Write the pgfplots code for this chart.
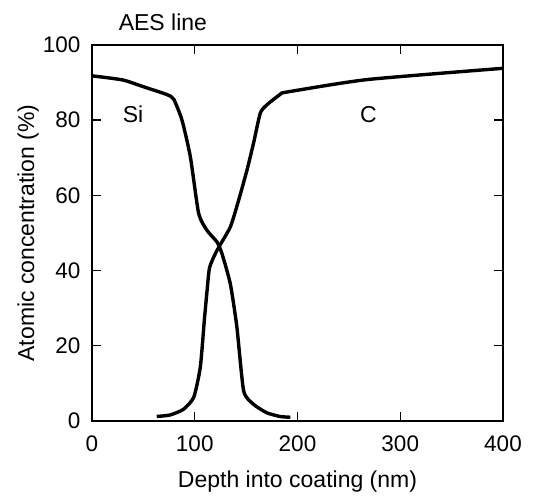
\documentclass[border=0pt]{standalone}
\usepackage{fontspec}
\setmainfont{Liberation Sans}
\usepackage{pgfplots}
\pgfplotsset{compat=1.18}
\begin{document}
\begin{tikzpicture}
\useasboundingbox (0,0) rectangle (535pt,495pt);
\begin{axis}[
  at={(92pt,74pt)}, anchor=south west,
  scale only axis, width=411pt, height=376pt,
  xmin=0, xmax=400, ymin=0, ymax=100,
  xtick={0,100,200,300,400}, ytick={0,20,40,60,80,100},
  tick align=inside, major tick length=9pt,
  axis line style={line width=1.4pt}, tick style={line width=1.4pt, black},
  /pgf/number format/assume math mode=true,
  ticklabel style={font=\fontsize{22.5}{26}\selectfont},
  xticklabel style={yshift=-11pt},
  yticklabel style={xshift=-8pt},
  every axis x label/.style={at={(axis description cs:0.5,0)}, anchor=base, yshift=-66pt, font=\fontsize{23}{27}\selectfont},
  every axis y label/.style={at={(axis description cs:0,0.5)}, rotate=90, anchor=base, yshift=58pt, font=\fontsize{23}{27}\selectfont},
  xlabel={Depth into coating (nm)},
  ylabel={Atomic concentration (\%)},
  clip=false,
]
\addplot[black, line width=3.4pt, smooth, tension=0.35] coordinates {
 (0,91.8) (30,90.7) (50,88.9) (73,86.8) (79.5,85.6) (87.6,80) (95.7,70.3)
 (103.8,55.2) (111.9,50.7) (121.7,47.6) (126.5,44.5) (134.6,36.5)
 (141,25) (147.6,8) (157.4,4.4) (170,2.2) (183,1.2) (193,1)
};
\addplot[black, line width=3.4pt, smooth, tension=0.35] coordinates {
 (63,1.2) (76,1.6) (89,3.1) (99,6.3) (105.4,14.3) (109.3,26.7) (112,34.7)
 (114.5,40.9) (121.7,45.4) (134.6,51.6) (142.7,58.7) (150.9,66.8)
 (157.3,74) (163.8,81.9) (170.3,84.1) (183.3,86.9) (190,87.5)
 (267.6,90.8) (400,93.8)
};
\node[font=\fontsize{23}{27}\selectfont] at (axis cs:69,106) {AES line};
\node[font=\fontsize{23}{27}\selectfont] at (axis cs:40,81.5) {Si};
\node[font=\fontsize{23}{27}\selectfont] at (axis cs:269,81.5) {C};
\end{axis}
\end{tikzpicture}
\end{document}
